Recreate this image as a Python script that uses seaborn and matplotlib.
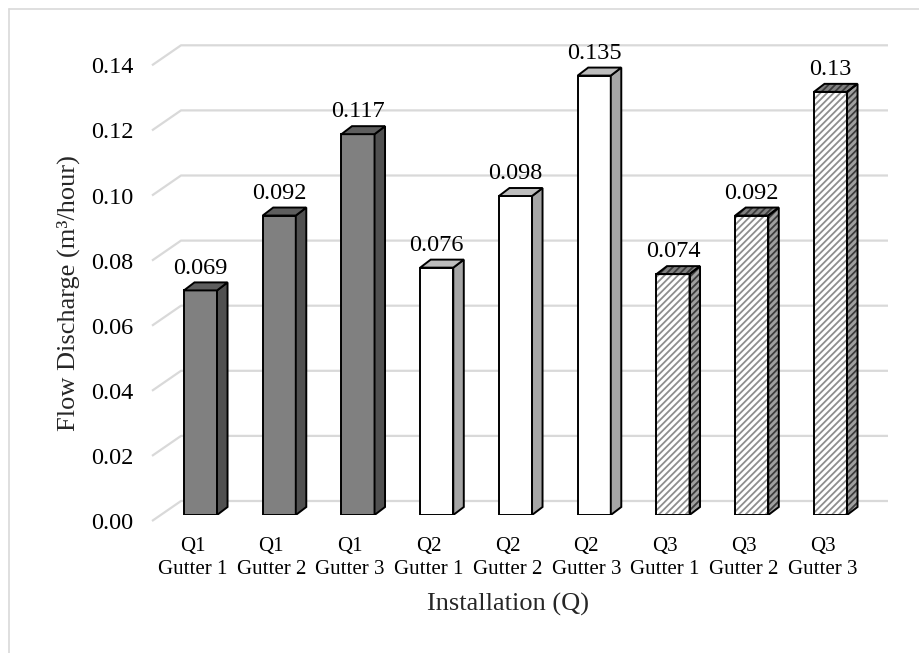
import pandas as pd
import seaborn as sns
import matplotlib.pyplot as plt
from matplotlib.patches import Polygon, Rectangle
from matplotlib.lines import Line2D
from matplotlib.transforms import ScaledTranslation

# data
installations = ["Q1", "Q1", "Q1", "Q2", "Q2", "Q2", "Q3", "Q3", "Q3"]
gutters = ["Gutter 1", "Gutter 2", "Gutter 3"] * 3
discharge = [0.069, 0.092, 0.117, 0.076, 0.098, 0.135, 0.074, 0.092, 0.13]
y_ticks = [0.00, 0.02, 0.04, 0.06, 0.08, 0.10, 0.12, 0.14]

df = pd.DataFrame({"installation": installations, "gutter": gutters, "discharge": discharge})
df["label"] = df["installation"] + "\n" + df["gutter"]

sns.set_theme(style="white")
plt.rcParams["font.family"] = ["Liberation Serif", "DejaVu Serif"]
plt.rcParams["hatch.linewidth"] = 1.3

# face colours per installation: front, side, top (plus hatch colours for Q3)
front_colors = {"Q1": "#808080", "Q2": "#ffffff", "Q3": "#ffffff"}
side_colors = {"Q1": "#505050", "Q2": "#a6a6a6", "Q3": "#a0a0a0"}
top_colors = {"Q1": "#5e5e5e", "Q2": "#bdbdbd", "Q3": "#808080"}
hatch_colors = {"Q3": ("#8e8e8e", "#3c3c3c", "#3a3a3a")}

DPI = 100
W, H = 919, 653
fig = plt.figure(figsize=(W / DPI, H / DPI), dpi=DPI)

# bar plane in pixels
left, right, zero_y, top_y = 152, 888, 515, 59.3
first_c, step = 200.5, 78.75
ax = fig.add_axes([left / W, (H - zero_y) / H, (right - left) / W, (zero_y - top_y) / H])

sns.barplot(data=df, x="label", y="discharge", hue="installation", palette=front_colors,
            dodge=False, width=0.42, edgecolor="black", linewidth=1.4, legend=False,
            ax=ax, zorder=3)

ax.set_xlim((left - first_c) / step, (right - first_c) / step)
ax.set_ylim(0, 0.14)
sns.despine(ax=ax, left=True, bottom=True)
ax.set_xlabel("")
ax.set_ylabel("")

inv = ax.transData.inverted()


def shift(x, y, dx, dy):
    px = ax.transData.transform((x, y))
    return inv.transform((px[0] + dx, px[1] + dy))


# 3d-ish gridlines: front diagonal then back wall
xl, xr = ax.get_xlim()
for t in y_ticks:
    p0 = shift(xl, t, 0, -6)
    p1 = shift(xl, t, 29, 14)
    p2 = shift(xr, t, 0, 14)
    ax.plot([p0[0], p1[0], p2[0]], [p0[1], p1[1], p2[1]], color="#d9d9d9", lw=1.6,
            zorder=1, clip_on=False, solid_capstyle="butt")

# side and top faces of the bars
dx, dy = 10.5, 8
bars = sorted(ax.patches, key=lambda p: p.get_x())
for p, inst, v in zip(bars, installations, discharge):
    x0, w, h = p.get_x(), p.get_width(), p.get_height()
    x1 = x0 + w
    side = [(x1, 0), (x1, h), tuple(shift(x1, h, dx, dy)), tuple(shift(x1, 0, dx, dy))]
    top = [(x0, h), (x1, h), tuple(shift(x1, h, dx, dy)), tuple(shift(x0, h, dx, dy))]
    if inst in hatch_colors:
        hf, hs, ht = hatch_colors[inst]
        p.set_hatch("/////")
        p.set_edgecolor(hf)
        p.set_linewidth(0)
        ax.add_patch(Rectangle((x0, 0), w, h, fill=False, edgecolor="black", lw=1.4, zorder=4))
        ax.add_patch(Polygon(side, closed=True, facecolor=side_colors[inst], edgecolor=hs,
                             hatch="/////", lw=0, zorder=3))
        ax.add_patch(Polygon(top, closed=True, facecolor=top_colors[inst], edgecolor=ht,
                             hatch="/////", lw=0, zorder=3))
        ax.add_patch(Polygon(side, closed=True, fill=False, edgecolor="black", lw=1.4, zorder=4))
        ax.add_patch(Polygon(top, closed=True, fill=False, edgecolor="black", lw=1.4, zorder=4))
    else:
        ax.add_patch(Polygon(side, closed=True, facecolor=side_colors[inst], edgecolor="black",
                             lw=1.4, zorder=3, joinstyle="miter"))
        ax.add_patch(Polygon(top, closed=True, facecolor=top_colors[inst], edgecolor="black",
                             lw=1.4, zorder=3, joinstyle="miter"))
    ax.annotate(f"{v:g}", (x0 + w / 2, h), xytext=(0, 16), textcoords="offset points",
                ha="center", va="center", fontsize=17.5, color="black", zorder=5)

ax.set_xticks(range(len(df)), df["label"])
ax.set_yticks(y_ticks, [f"{t:.2f}" for t in y_ticks])
ax.tick_params(axis="x", length=0, pad=16, labelsize=15, colors="black")
ax.tick_params(axis="y", length=0, pad=13.5, labelsize=17.5, colors="black")
for lab in ax.get_yticklabels():
    lab.set_transform(lab.get_transform() + ScaledTranslation(0, -6 / DPI, fig.dpi_scale_trans))
for lab in ax.get_xticklabels():
    lab.set_transform(lab.get_transform() + ScaledTranslation(-8 / DPI, 0, fig.dpi_scale_trans))
    lab.set_linespacing(1.3)

fig.text(68 / W, 1 - 293 / H, "Flow Discharge (m³/hour)", rotation=90, ha="center",
         va="center", fontsize=19)
fig.text(508 / W, 1 - 604 / H, "Installation (Q)", ha="center", va="center", fontsize=19)

# chart area border (left and top edges visible)
fig.add_artist(Line2D([8.5 / W, 8.5 / W], [0, 1 - 8.5 / H], transform=fig.transFigure,
                      color="#d9d9d9", lw=1.2))
fig.add_artist(Line2D([8.5 / W, 1], [1 - 8.5 / H, 1 - 8.5 / H], transform=fig.transFigure,
                      color="#d9d9d9", lw=1.2))

fig.savefig("out.png", dpi=DPI)
